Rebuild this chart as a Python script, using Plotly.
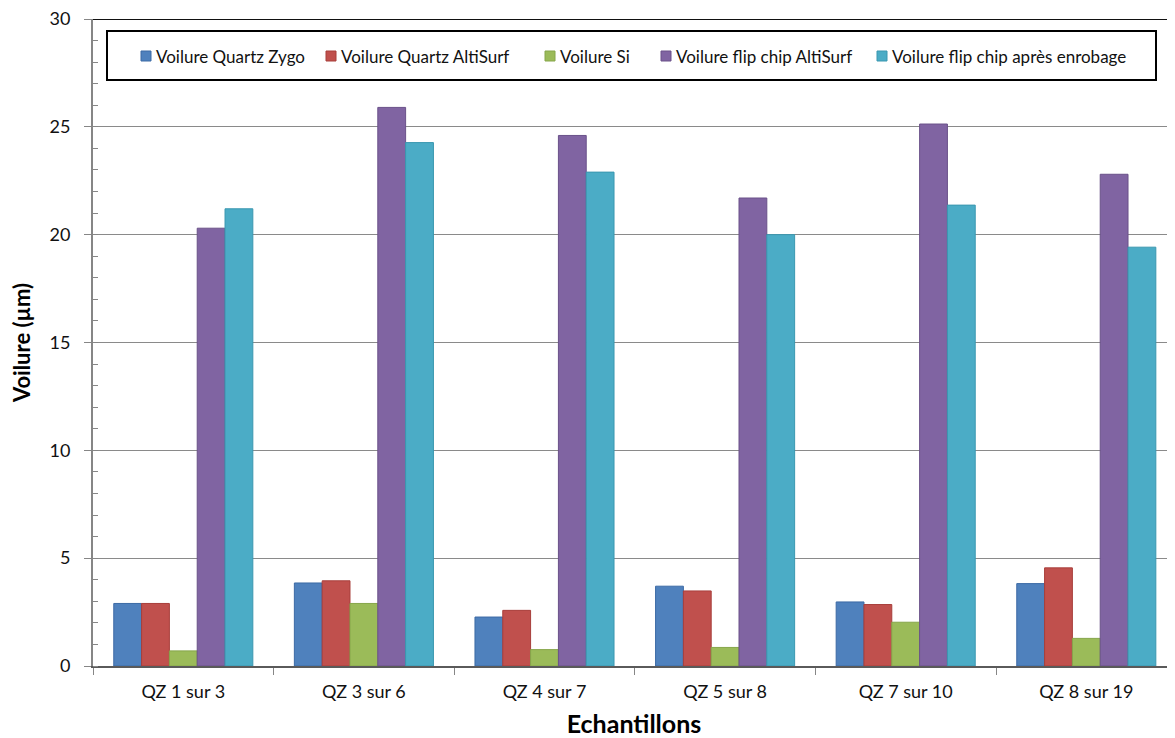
import plotly.graph_objects as go

categories = ["QZ 1 sur 3", "QZ 3 sur 6", "QZ 4 sur 7", "QZ 5 sur 8", "QZ 7 sur 10", "QZ 8 sur 19"]
series_names = ["Voilure Quartz Zygo", "Voilure Quartz AltiSurf", "Voilure Si",
                "Voilure flip chip AltiSurf", "Voilure flip chip après enrobage"]
quartz_zygo = [2.9, 3.85, 2.27, 3.7, 2.97, 3.82]
quartz_altisurf = [2.9, 3.95, 2.58, 3.48, 2.85, 4.55]
si = [0.7, 2.9, 0.76, 0.86, 2.03, 1.28]
flip_altisurf = [20.3, 25.9, 24.6, 21.7, 25.13, 22.8]
flip_enrobage = [21.2, 24.27, 22.9, 20.0, 21.37, 19.42]
y_ticks = [0, 5, 10, 15, 20, 25, 30]

colors = ["#4F81BD", "#C0504D", "#9BBB59", "#8064A2", "#4BACC6"]
edges = ["#3C6AA5", "#A83E3B", "#86A64A", "#6A5189", "#3A97B0"]

OFF = 8  # default page body margin
W, H = 1175 - OFF, 738 - OFF
L, R, T, B = 93 - OFF, 0, 19 - OFF, 72
PW, PH = W - L - R, H - T - B

fig = go.Figure()
for name, vals, c, e in zip(series_names,
                            [quartz_zygo, quartz_altisurf, si, flip_altisurf, flip_enrobage],
                            colors, edges):
    fig.add_trace(go.Bar(x=categories, y=vals, name=name,
                         marker=dict(color=c, line=dict(color=e, width=1))))

font = "Lato, 'Open Sans', sans-serif"

fig.update_layout(
    width=W, height=H,
    margin=dict(l=L, r=R, t=T, b=B, pad=0, autoexpand=False),
    paper_bgcolor="white", plot_bgcolor="white",
    barmode="group", bargap=0.23, bargroupgap=0,
    showlegend=False,
    font=dict(family=font, color="#111111"),
    xaxis=dict(
        automargin=False,
        range=[-0.5, -0.5 + PW / 180.6],
        tickson="boundaries", ticks="outside", ticklen=7, tickwidth=1, tickcolor="#868686",
        showline=True, linecolor="#5a5a5a", linewidth=2,
        showgrid=False,
        tickfont=dict(size=18, color="#111111"),
        ticklabelstandoff=8,
        ticklabeloverflow="allow",
        title=dict(text="<b>Echantillons</b>", font=dict(size=25, color="#000000"), standoff=20),
    ),
    yaxis=dict(
        automargin=False,
        range=[0, 30], tickvals=y_ticks,
        ticks="outside", ticklen=7, tickwidth=1, tickcolor="#868686",
        minor=dict(dtick=1, ticks="inside", ticklen=5, tickcolor="#868686", showgrid=False),
        showline=True, linecolor="#868686", linewidth=2,
        showgrid=True, gridcolor="#8a8a8a", gridwidth=1,
        zeroline=False,
        tickfont=dict(size=18, color="#111111"),
        ticklabelstandoff=10,
        ticklabeloverflow="allow",
        title=dict(text="<b>Voilure (µm)</b>", font=dict(size=22, color="#000000"), standoff=14),
    ),
)

# top border line of the plot area at y = 30
fig.add_shape(type="line", xref="paper", yref="y", x0=0, x1=1, y0=30, y1=30,
              line=dict(color="#111111", width=2))


def px_x(p):
    return (p - OFF - L) / PW


def px_y(p):
    return (H - B - (p - OFF)) / PH


# custom legend box
fig.add_shape(type="rect", xref="paper", yref="paper",
              x0=px_x(107), x1=px_x(1156), y0=px_y(80), y1=px_y(31),
              line=dict(color="#000000", width=2), fillcolor="white", layer="above")
legend_square_x = [141, 326, 545, 661, 877]
for name, c, e, sx in zip(series_names, colors, edges, legend_square_x):
    fig.add_shape(type="rect", xref="paper", yref="paper",
                  x0=px_x(sx), x1=px_x(sx + 10), y0=px_y(61), y1=px_y(51),
                  line=dict(color=e, width=1), fillcolor=c, layer="above")
    fig.add_annotation(xref="paper", yref="paper", x=px_x(sx + 13), y=px_y(56),
                       xanchor="left", yanchor="middle", showarrow=False,
                       text=name, font=dict(size=17, color="#111111", family=font))

fig.write_html("out.html")
